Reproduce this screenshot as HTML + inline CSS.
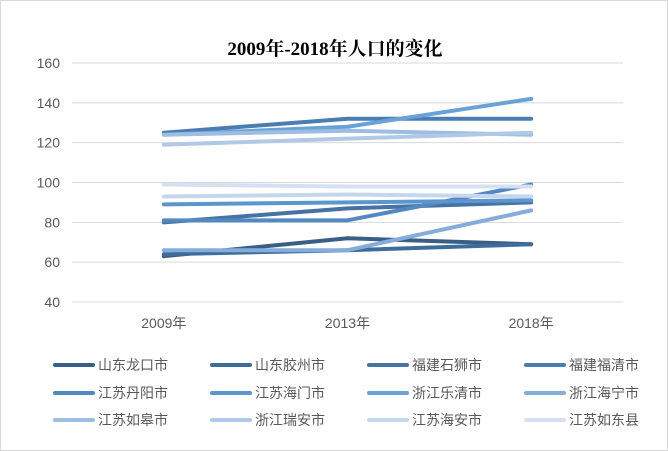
<!DOCTYPE html>
<html><head><meta charset="utf-8"><style>
body{margin:0;background:#fff;}
svg{display:block;font-family:"Liberation Sans","Noto Sans CJK SC",sans-serif;}
</style></head><body>
<svg width="668" height="451">
<rect x="0.5" y="0.5" width="667" height="450" fill="#fff" stroke="#d9d9d9"/>
<text x="335" y="55" text-anchor="middle" font-family="Liberation Serif,'Noto Serif CJK SC',serif" font-weight="bold" font-size="19" fill="#000">2009年-2018年人口的变化</text>
<g id="grid"></g><g id="lines"></g><g id="legend"></g>
</svg>
<script>
const categories=["2009年","2013年","2018年"];
const yTicks=[40,60,80,100,120,140,160];
const seriesNames=["山东龙口市","山东胶州市","福建石狮市","福建福清市","江苏丹阳市","江苏海门市","浙江乐清市","浙江海宁市","江苏如皋市","浙江瑞安市","江苏海安市","江苏如东县"];
const s1=[63,72,69];
const s2=[64,66,69];
const s3=[80,87,90];
const s4=[125,132,132];
const s5=[81,81,99];
const s6=[89,90,91];
const s7=[124,128,142];
const s8=[66,66,86];
const s9=[124,126,124];
const s10=[119,122,125];
const s11=[93,94,93];
const s12=[99,98,98];
const seriesValues=[s1,s2,s3,s4,s5,s6,s7,s8,s9,s10,s11,s12];
const colors=["#395f86","#3f6d99","#4672a4","#4a7db2","#5289c2","#5b96cf","#6aa2d8","#85addc","#9dbde2","#b1c8e6","#c5d6ed","#d5e1f1"];
const NS="http://www.w3.org/2000/svg";
const X0=72,X1=623,Y0=302,Y1=63,ymin=40,ymax=160;
function xs(i){return X0+(X1-X0)*(i+0.5)/categories.length;}
function ys(v){return Y0-(v-ymin)/(ymax-ymin)*(Y0-Y1);}
function mk(t,a,p){const e=document.createElementNS(NS,t);for(const k in a)e.setAttribute(k,a[k]);p.appendChild(e);return e;}
const grid=document.getElementById('grid');
yTicks.forEach(t=>{
 const l=mk('line',{x1:X0,x2:X1,y1:ys(t),y2:ys(t),stroke:'#d9d9d9','stroke-width':1},grid);
 
 
 const tx=mk('text',{x:X0-12,y:ys(t)+5,'text-anchor':'end','font-size':14,fill:'#595959'},grid);
 tx.textContent=t;
 
 
});
categories.forEach((c,i)=>{
 const tx=mk('text',{x:xs(i),y:328,'text-anchor':'middle','font-size':14,fill:'#595959'},grid);
 tx.textContent=c;
 
 
});
const lines=document.getElementById('lines');
seriesValues.forEach((vals,k)=>{
 const pts=vals.map((v,i)=>xs(i)+','+ys(v)).join(' ');
 const pl=mk('polyline',{points:pts,fill:'none',stroke:colors[k],'stroke-width':4,'stroke-linecap':'round','stroke-linejoin':'round'},lines);
 
 
});
const lg=document.getElementById('legend');
const colX=[55,212,369,526],rowY=[365,393,420];
seriesNames.forEach((n,k)=>{
 const x=colX[k%4],y=rowY[Math.floor(k/4)];
 const g=mk('g',{},lg);
 
 
 mk('line',{x1:x,x2:x+38,y1:y,y2:y,stroke:colors[k],'stroke-width':4,'stroke-linecap':'round'},g);
 const t=mk('text',{x:x+43,y:y+5,'font-size':14,fill:'#595959'},g);
 t.textContent=n;
});
</script>
</body></html>
